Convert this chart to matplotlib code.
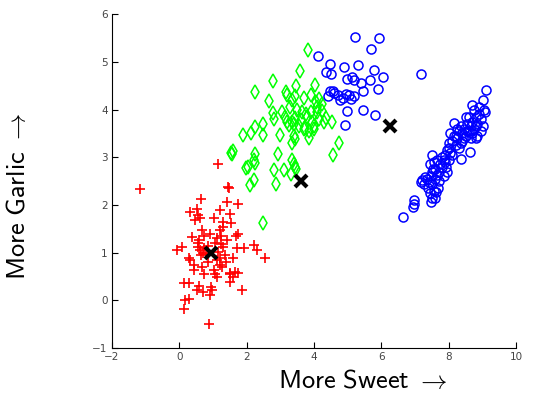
import matplotlib
matplotlib.use("Agg")
import matplotlib.pyplot as plt

# red cluster (+)
red_x = [-1.15, 1.14, 1.45, 1.48, 0.65, 0.89, 0.13, 2.55, 2.21, 2.31, 1.86, 1.73, 1.42,
         0.33, 0.52, 1.22, 1.52, 0.48, 0.62, 1.02, 1.30, 1.53, 0.67, 0.92, 1.22, 1.73, 1.70,
         0.38, 0.60, 1.12, 1.42, 1.30, 0.55, 1.25, 0.75,
         0.08, -0.07, 0.57, 0.74, 1.30, 1.71, 1.91, 0.62, 0.70, 0.80, 1.15, 1.35, 1.20, 0.85,
         1.05, 1.25, 0.55,
         0.28, 0.33, 0.64, 1.12, 1.61, 0.43, 0.67, 1.02, 1.27, 1.52, 1.66, 1.73, 1.60, 1.12,
         1.52, 1.50, 0.13, 0.28, 0.52, 0.72, 0.97, 0.28, 0.18, 0.90, 0.95, 0.60, 1.20, 0.85,
         0.45, 1.40, 1.05, 0.75]
red_y = [2.33, 2.85, 2.38, 2.36, 2.13, -0.50, -0.17, 0.88, 1.16, 1.05, 0.22, 2.02, 2.07,
         1.85, 1.92, 1.90, 1.82, 1.68, 1.72, 1.72, 1.65, 1.63, 1.47, 1.40, 1.47, 1.39, 1.35,
         1.32, 1.26, 1.30, 1.26, 1.55, 1.80, 1.35, 1.35,
         1.12, 1.05, 1.12, 1.09, 1.12, 1.09, 1.09, 1.05, 1.00, 0.98, 1.02, 0.95, 0.90, 1.15,
         1.20, 1.18, 1.20,
         0.88, 0.84, 0.95, 0.84, 0.90, 0.64, 0.70, 0.64, 0.70, 0.57, 0.60, 0.57, 0.50, 0.50,
         0.39, 0.55, 0.36, 0.36, 0.22, 0.18, 0.22, 0.04, 0.01, 0.11, 0.28, 0.30, 0.75, 0.80,
         0.75, 0.80, 0.55, 0.55]

# green cluster (diamonds)
green_x = [3.81, 3.59, 2.77, 2.24, 2.65, 3.17, 3.47, 4.04, 3.20, 3.35, 3.45, 3.70, 3.90,
           4.05, 4.15, 4.25, 4.10,
           2.79, 2.81, 3.15, 3.20, 3.35, 3.45, 3.60, 3.80, 3.95, 4.10, 4.25, 4.35, 3.40,
           3.55, 3.70, 3.85, 4.00, 4.15, 3.65, 3.90, 3.30, 3.50, 3.75, 4.30, 3.05, 3.25,
           2.49, 2.24, 1.88, 2.13, 2.49, 2.98, 3.35, 3.40, 3.72, 3.85, 4.00, 4.53, 4.73,
           4.56, 3.45,
           1.53, 1.59, 1.57, 2.26, 2.21, 1.99, 2.94, 2.21, 2.09, 2.82, 3.12, 3.35, 3.40,
           3.45, 3.32, 2.88, 2.50, 2.25, 2.05, 3.48]
green_y = [5.25, 4.80, 4.59, 4.37, 4.18, 4.37, 4.49, 4.51, 4.30, 4.20, 4.28, 4.25, 4.30,
           4.15, 4.22, 4.12, 4.05,
           3.93, 3.81, 3.85, 3.75, 3.75, 3.82, 3.78, 3.85, 3.75, 3.95, 3.98, 3.82, 3.70,
           3.65, 3.60, 3.55, 3.65, 3.80, 3.95, 3.95, 4.05, 4.00, 3.90, 3.75, 3.95, 3.68,
           3.70, 3.63, 3.46, 3.50, 3.46, 3.46, 3.30, 3.45, 3.62, 3.40, 3.60, 3.73, 3.31,
           3.04, 3.38,
           3.10, 3.13, 3.07, 3.06, 2.94, 2.78, 3.06, 2.52, 2.41, 2.74, 2.74, 2.94, 2.87,
           2.80, 2.66, 2.44, 1.63, 2.88, 2.80, 2.75]

# blue cluster (circles): upper group + elongated group
blue_x = [4.11, 5.21, 5.92, 5.69, 4.47, 4.49, 4.35, 4.90, 5.30, 5.79, 6.05, 4.98, 5.13,
          5.18, 5.38, 5.67, 5.90, 5.45, 4.47, 4.43, 4.60, 4.72, 4.85, 4.95, 5.05, 5.20,
          4.55, 4.78, 4.98, 5.44, 5.81, 4.91, 7.16, 5.10,
          6.64, 6.96, 6.98, 6.94, 7.16, 7.21, 7.46, 7.51, 7.45, 7.55, 7.62, 7.35, 7.40,
          7.48, 7.58, 7.65, 7.28, 7.50, 7.60, 7.70, 7.75, 7.51, 7.55, 7.65, 7.80, 7.85,
          7.90, 7.95, 8.00, 8.05, 7.92, 8.02, 8.10, 8.15, 8.20, 8.25, 8.30, 8.36, 8.35,
          8.40, 8.45, 8.50, 8.55, 8.60, 8.64, 8.65, 8.69, 8.70, 8.75, 8.80, 8.85, 8.90,
          8.95, 9.00, 9.09, 9.05, 9.08, 8.95, 8.85, 8.60, 8.50, 8.40, 8.30, 8.20, 8.10,
          8.00, 7.95, 7.85, 7.70, 7.68, 7.50, 7.38, 7.60, 8.25, 8.45, 8.70, 8.80, 9.00,
          8.90, 8.75, 8.55, 8.15, 8.05, 7.90, 7.80, 8.35, 8.65, 8.80, 7.45, 7.52, 7.25]
blue_y = [5.12, 5.53, 5.49, 5.26, 4.96, 4.74, 4.79, 4.89, 4.94, 4.84, 4.68, 4.65, 4.68,
          4.61, 4.56, 4.61, 4.43, 4.39, 4.40, 4.29, 4.35, 4.30, 4.25, 4.33, 4.30, 4.28,
          4.38, 4.20, 3.98, 4.00, 3.88, 3.68, 4.75, 4.22,
          1.74, 2.10, 2.02, 1.96, 2.48, 2.53, 2.07, 2.14, 2.25, 2.30, 2.28, 2.55, 2.48,
          2.60, 2.55, 2.62, 2.58, 2.70, 2.75, 2.70, 2.85, 3.04, 2.90, 2.95, 2.80, 2.95,
          3.05, 3.15, 3.20, 3.10, 2.80, 3.30, 3.35, 3.72, 3.45, 3.40, 3.55, 2.97, 3.30,
          3.50, 3.60, 3.45, 3.70, 3.55, 3.11, 3.65, 4.09, 3.75, 3.60, 3.85, 3.70, 3.90,
          3.80, 4.20, 4.42, 4.00, 3.95, 3.55, 3.45, 3.85, 3.85, 3.35, 3.20, 3.25, 3.05,
          2.95, 2.70, 2.60, 2.50, 2.35, 2.45, 2.35, 2.15, 3.60, 3.40, 3.50, 3.65, 3.65,
          4.05, 4.00, 3.55, 3.45, 3.50, 2.90, 3.00, 3.65, 3.40, 3.40, 2.85, 2.75, 2.45]

# cluster centres
cent_x = [0.95, 3.62, 6.26]
cent_y = [1.00, 2.50, 3.65]

plt.rcParams['mathtext.fontset'] = 'cm'

fig = plt.figure(figsize=(5.48, 3.93), dpi=100)
ax = fig.add_axes([0.204, 0.114, 0.738, 0.85])

ax.plot(red_x, red_y, '+', color=(1, 0, 0), ms=7, mew=1.2, ls='none')
ax.plot(green_x, green_y, 'd', color=(0, 1, 0), mfc='none', ms=7.5, mew=1.1, ls='none')
ax.plot(blue_x, blue_y, 'o', color=(0, 0, 1), mfc='none', ms=6.5, mew=1.1, ls='none')
ax.plot(cent_x, cent_y, 'x', color='black', ms=9, mew=3, ls='none')

ax.set_xlim(-2, 10)
ax.set_ylim(-1, 6)
ax.set_xticks(range(-2, 11, 2))
ax.set_yticks(range(-1, 7))
ax.spines['top'].set_visible(False)
ax.spines['right'].set_visible(False)
ax.tick_params(direction='in', length=4, labelsize=7.5, labelcolor='#444444', pad=3)

ax.set_xlabel(r'$\mathsf{More\ Sweet}\ \rightarrow$', fontsize=19)
ax.set_ylabel(r'$\mathsf{More\ Garlic}\ \rightarrow$', fontsize=19)
ax.xaxis.set_label_coords(0.62, -0.06)
ax.yaxis.set_label_coords(-0.20, 0.455)

fig.savefig('out.png', dpi=100)
